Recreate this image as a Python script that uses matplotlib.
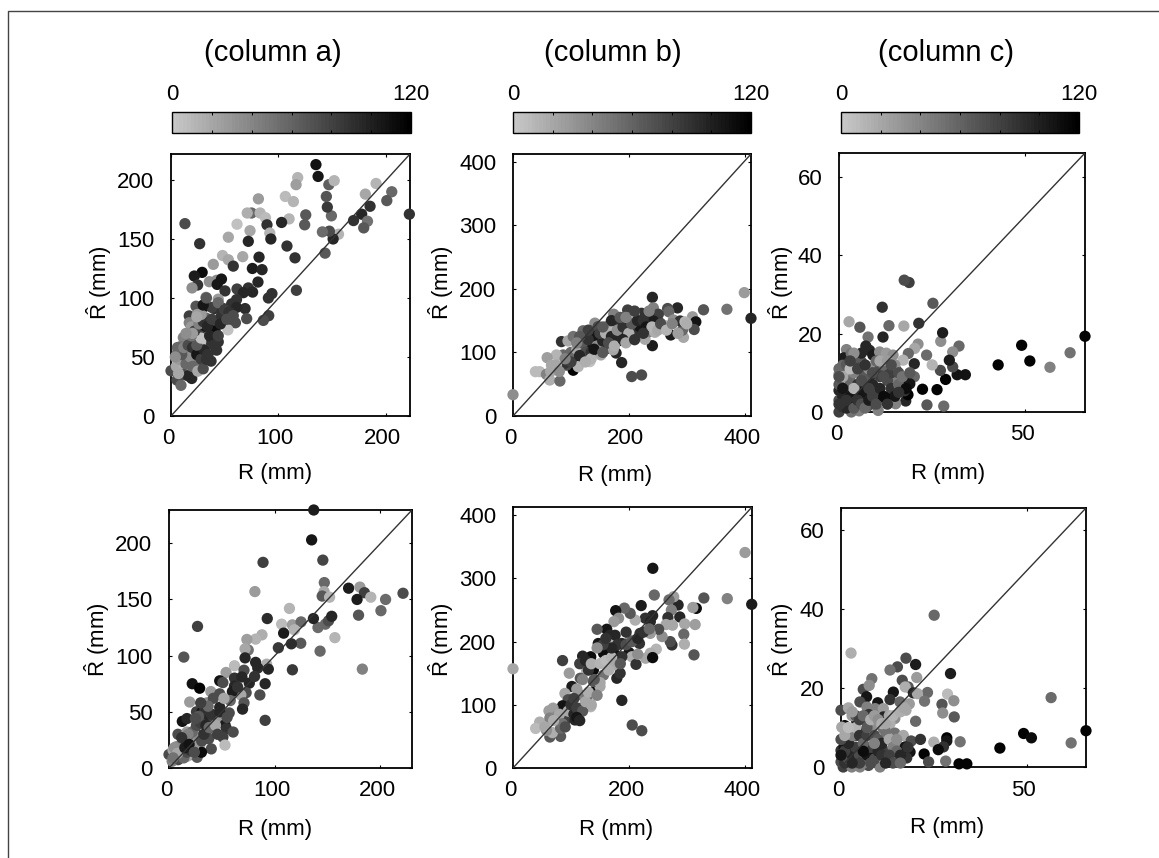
import matplotlib
matplotlib.use('Agg')
import matplotlib.pyplot as plt
import numpy as np
from matplotlib.colors import ListedColormap, Normalize
from matplotlib.cm import ScalarMappable
from matplotlib.lines import Line2D
from matplotlib.transforms import ScaledTranslation

W, H = 1159, 858
plt.rcParams['font.family'] = ['Liberation Sans', 'DejaVu Sans']
plt.rcParams['mathtext.fontset'] = 'custom'
plt.rcParams['mathtext.rm'] = 'Liberation Sans'

# column a, top row
a1_x = [222,205.6,201,191,181,185.4,177.6,183,179.5,170,156,151,147.5,141,143.5,149.4,145.6,144.7,147,152,137,135,118,116.5,106.5,114,125.5,124.5,110,103,81.4,75,71,83,88,89.4,61.5,73.6,53.4,92,93,72,108,115.5,13,26.7,66.8,82,48,53.4,39.4,58,75.8,84.8,29,21.7,24.8,19.6,35.7,42.5,47,43,81,50.3,61.5,72,76,67.4,116.8,94,90.7,32.6,44,61,56.5,69,61,23.3,31.7,40.4,48.8,70.5,91,86,60,17,24.5,32.6,17,42,50,53,29,41,11.5,15.5,27,36.5,44,27.6,18,8.4,6,36.5,42.5,26.4,21,37.3,13,27,3.7,10,0,15.2,22.4,8.4,19.3,5.6,9.3,15,22.4,19,11.5,7]
a1_y = [171,190,182.5,197,188,177.7,171,165,159.4,165.6,154,150,156.6,156,138,169.6,177,186,196,199.4,203,213,202,196,186,181.7,170.4,162,167,164,184,172,172,172,168,162,162.5,157,151.5,155,150,148,144,134,163,146,135,134.6,136,132.4,128.5,127,125,124,121.7,118.6,111,108.5,113.8,115,116,111.5,113.5,106,107.6,108.5,105,104.5,106.5,103.7,100,100.5,99,98.6,95,91,92,93,93,91,91,82.5,85,81,79,84.8,86,83,79,80,78,73,75,72,66.5,65.6,68,63.7,62.8,62.8,60,58.6,53.5,55,55.8,50,46.8,46.5,48.7,44.5,40.3,40,38.3,38.3,37.5,34.6,31.8,30.4,26,53,55.8,75.5,47,46]
a1_c = [89,58,66,12,20,89,97,51,66,89,12,97,74,55,66,58,86,69,62,12,105,108,12,25,9,12,66,66,12,97,28,58,15,12,9,89,5,20,20,12,97,97,89,89,74,89,20,97,12,20,28,89,102,97,112,102,89,35,35,35,105,105,97,89,82,89,97,97,82,89,89,43,28,89,89,92,97,69,112,89,89,74,82,74,74,82,28,58,43,74,97,5,105,112,43,43,82,89,89,5,74,51,58,58,89,58,74,89,74,43,28,43,74,97,20,20,97,74,58,89,112,28,20,28]
a1_x += [5,8,12,14,18,10,6,4,12,16,20,24,28,31,34,24,28,19,22,26,30,34,38,28,20,14,24,36,40,44,47,38,44,50,54,46,30,33,52,58,12,16,20,7,25,30,33]
a1_y += [42,48,40,44,50,52,58,50,58,60,58,52,48,56,52,60,66,68,72,78,80,76,82,86,70,70,84,68,60,68,85,92,96,90,88,78,94,100,82,85,35,34,42,36,38,40,48]
a1_c += [20,28,15,58,35,66,58,35,43,74,89,105,82,97,89,66,5,51,82,43,89,97,82,28,28,35,20,97,89,82,89,82,58,82,89,97,105,66,74,74,74,97,58,20,20,74,89]

# column a, bottom row
a2_x = [137,135,145.6,89,81.3,147,146.8,145,152,170,180.7,185,191,205,221.5,200.6,178,179.4,183,157,143,141,136.7,148,151,154,114,93,27,14,106.6,116.8,125,118.7,108.5,124.7,115.8,103.5,116.8,88,82,73.7,75,72,72,62,54,82,71,92.4,94,84,62,69,48,51,22,29,62,76,91,81,39.6,48,73,68,86,19.6,36,42,71,69.6,48,57,26,31,91,12.6,17,35.4,42.7,48,43.4,53,54.4,36.4,60.7,8.5,17,24.4,37.6,51,40,53,29,18,13.3,26,7,0,5.4,10,15,21,26.6,17,8.5,30.7,3.8]
a2_y = [229.6,203,185,183,157,165,157,153,152,160,161,156,152,150,155.5,140,150,136,88,116,104,125,133,128,131,135,142,133,126,98.7,128,127.4,130,123,120,111,110.5,107,87.4,118.5,114.7,114.4,105,106,98,91,85,94,87,92.4,88,89,80,81,77.6,76,75,71,73,75.5,75,81.5,68,66,67,65,65,58.7,58,62,58,52.4,54,49,50,49.5,42.4,41.5,44,44.4,43,46,36.5,38.5,35,34,32,30,32,33.5,26,27.5,17,20.4,20,20.7,22,26.7,19,12,13.3,13,15,12,9.5,10.4,7.4,14,16]
a2_c = [102,105,78,82,28,58,20,66,12,102,28,82,12,55,74,58,102,69,43,12,58,55,97,58,74,97,12,92,82,69,9,28,58,12,102,66,92,86,86,15,12,25,51,20,97,9,25,97,74,15,97,97,89,97,108,74,108,117,97,97,97,89,28,74,74,20,74,28,35,74,69,97,97,74,82,108,82,108,97,97,82,28,28,102,89,74,74,74,28,74,74,82,74,9,20,105,89,74,35,74,43,28,35,51,66,20,82,112,20]
a2_x += [3,6,9,12,14,17,20,23,11,16,21,25,28,31,33,22,26,30,18,12,5,8,4,15,19,24,35,38,40,44,34,28,37,46,48,55,60,65,58,52,30,25]
a2_y += [6,10,8,15,9,14,16,18,20,24,26,22,28,24,30,32,38,40,30,27,18,13,9,18,21,14,38,36,48,38,52,46,55,30,50,45,68,72,60,62,58,44]
a2_c += [43,35,74,28,58,74,89,20,43,66,82,28,35,74,89,58,74,82,43,89,35,20,51,102,108,74,97,58,89,20,89,66,58,82,97,74,102,89,58,20,82,74]

# column b, top row
b1_x = [411,399.4,369.4,329,0,240.7,242.4,284,267,269,310,315.7,312.8,294.4,292.6,277,288.6,297,272.4,240.7,222,205,187.6,178,198,174,222,209.5,192,251,236.7,254,83.7,95,104,121,141.4,141.4,147,164.5,173,164.5,144.3,181.8,200,202,213.6,219,228,235.5,245,257,262.6,242.4,181.8,187.6,127,121,112.6,106.8,104,92.4,86.6,75,59,66.4,46,38.7,57.7,63.5,81,132.7,112.6,127,138.5,153,164.5,173,151.8,89.5,101]
b1_y = [153.6,194,167.8,167,33.5,186.6,170,170,169,164,156,148,136,123.7,135,151,149.4,148,127.4,110.6,64.5,62,84,99,166.7,160,161.5,161.5,155,160,152,146,117,118,125,134,146,129,140.5,142,133.7,120.6,125,118,123,135,130,140.5,120.6,132.6,131.6,140.5,142,149.4,146,134,111.7,106.4,93.3,88,72,80,96,96,91.7,80,69.7,69.7,65.5,56.6,55,85.5,77.6,93.3,109,104,106.4,104,96,83,90.7]
b1_c = [97,28,51,69,35,97,43,97,74,58,28,108,74,20,58,35,89,12,102,102,74,74,97,97,82,43,89,12,66,82,89,89,89,20,51,58,35,112,74,35,12,9,105,97,89,35,89,105,20,43,15,20,15,102,89,97,97,89,74,105,117,74,58,12,25,20,9,9,43,15,58,5,12,97,105,51,89,20,20,89,82]
b1_x += [100,110,120,130,125,135,145,155,150,160,170,180,190,200,205,215,225,230,240,250,255,265,275,285,300,100,115,135,90,75,65,80,170,185,195,210,235,155,130,115,110,125,140,165,155,175,190,195,210,225]
b1_y += [100,105,115,120,100,100,110,118,130,130,125,135,140,130,145,150,150,140,140,135,145,135,145,130,145,85,95,90,90,80,70,70,150,155,155,165,165,140,135,125,115,85,105,115,100,110,120,115,120,130]
b1_c += [58,20,66,89,74,89,35,97,82,15,97,35,89,15,66,97,89,105,12,20,74,12,43,25,15,82,97,12,43,20,20,35,97,66,43,82,43,66,82,66,43,15,105,74,66,15,97,20,89,89]

# column b, bottom row
b2_x = [411.5,400,369.4,329,316,310,284.6,287.5,277,269,273,267,263.8,275,296,314,294.4,295.5,312,274,271,257,251,243.6,241,221,240.7,228,236.7,236.7,219,218,202,210.7,202,192,177,182,174,161.6,145,176,167,165,147,187.6,200,205,247,236.7,228.6,240.7,212,187.6,173,156,134,120,85.4,118,127,138.5,97,156,179,184.7,173,153,116,101.6,143,150,138.5,187.6,205.5,222,0,124,134,115.4,127,89.5,95,85.4,69,62,46,39,63.5,75,89.5,106.8,109.7,112.6,98,63.5,82,68,82,57.7]
b2_y = [259,341,268,269,252.6,254,258,239,271,266,250,238,227,226,228,227,211.6,196,179,194.7,200,208,219.5,273.7,316,257,241,237,231.6,213,213,197,202.6,234,244.7,253,249,237,231.6,219.5,219.5,210,210,196,197,197,182.6,176,188,181.6,173.7,174.7,164,176,184,181.6,176,177,170,166,154,155,150,147,142,150,163,166,142,129,123.7,129,137,107,68,59,157,100,97,116,110.5,118,108,98.4,94.7,90.5,72.6,62.6,79,81.6,74.7,76,81.6,89.5,92,49,50,56,63,59.5]
b2_c = [102,28,43,69,112,28,97,97,25,55,43,89,20,20,20,25,58,15,69,89,74,35,74,58,105,102,97,89,97,28,89,89,35,15,66,58,108,35,28,105,66,97,97,12,105,97,105,15,12,15,20,112,89,89,105,112,112,97,82,89,15,112,28,51,97,89,20,12,66,102,112,20,66,97,74,74,20,112,12,43,51,20,74,108,25,25,15,9,43,35,82,97,102,89,89,66,66,15,58,35]
b2_x += [95,105,100,110,120,125,130,110,105,135,145,150,140,130,120,115,125,135,150,160,170,175,165,185,180,195,205,215,225,235,215,195,170,155,160,145,75,80,85,90,70,110,115,55]
b2_y += [90,85,100,95,90,105,120,125,110,100,115,135,140,155,140,165,170,165,165,170,175,165,155,165,195,195,200,205,215,220,180,215,190,195,205,190,80,85,70,65,75,80,75,65]
b2_c += [20,97,89,82,66,20,15,28,82,20,43,20,66,89,43,82,97,15,12,9,12,20,15,66,89,74,66,97,89,58,35,89,97,82,89,35,43,20,51,74,15,105,97,20]

# column c, top row
c1_x = [66,62,56.6,49,51.2,42.7,33.9,31.7,32.2,30.5,30.5,29.6,28.6,27.2,27.3,27.8,25,26.3,28.1,23.6,22.4,23.5,21.2,20.3,20.2,20.2,21.4,25.2,18.8,17.5,17.4,13.4,11.6,11.8,7.8,5.6,2.7,7.2,8.2,9.1,2,1.3,3.3,10.9,12.7,14.5,18.6,17.2,9.3,2.4,0,6,1,4.2,6.5,8.2,10.9,13.6,15.4,14.5,17.6,19,2.4,3.8,7.8,9.6,0,5.6,7.3,11.4,13.2,14.7,17.9,18.5,17.6,15.2,10.5,5.4,3.3,0,1.1,0,2.9,4.2,9.1,7.5]
c1_y = [19.3,15.1,11.4,17,13,12,9.5,9.5,16.8,15.3,11.5,13.2,8.3,10.6,18,20.2,12,5.7,1.5,1.8,5.8,14.5,17.3,16.2,12.3,9,22.6,27.7,33,33.6,21.9,22,26.7,19.1,19.1,21.6,23,16.8,15.7,14.5,15.9,13.8,14.9,15.3,15,14.5,14.9,13.2,11.9,10.6,9.6,12.8,11.9,13.2,9.8,8.9,11,10.2,10.6,7.9,8.3,7.2,7.7,7,6.8,6.4,5.5,5.5,4.3,3.8,3.6,3.7,2.8,4.4,5.4,2.1,0.4,0.3,0,0,1.3,3,2.1,3.4,2.1,1.3]
c1_c = [117,51,43,117,117,117,108,108,58,35,74,102,117,74,35,102,12,117,55,66,117,55,35,20,97,58,89,66,82,74,20,58,89,97,51,69,20,97,97,102,43,102,51,35,28,35,58,12,9,20,35,66,58,74,74,97,74,82,74,43,112,105,12,35,89,43,97,105,97,112,112,117,97,117,89,43,43,43,51,82,89,74,97,105,74,74]
c1_x += [1,2,3,4,5,6,7,8,9,10,11,12,13,14,15,16,1,2,3,4,5,6,7,8,9,10,11,12,13,14,15,16,17,18,19,0,0,1,2,3,4,5,6,7,8,9,10,11,12,13,14,16,5,6,4,3,1,2,0,0]
c1_y += [4,6,8,10,7,5,9,11,7,5,9,12,8,6,4,7,2,1,4,1,3,2,1,3,4,2,6,4,2,10,12,10,9,6,10,7,11,9,12,11,6,11,8,12,6,10,13,13,9,13,12,5,14,15,15,13,6,3,2,9]
c1_c += [97,74,58,43,89,105,66,35,97,74,82,58,74,89,105,58,82,97,105,66,89,74,58,102,82,74,97,112,89,82,35,74,51,112,66,66,58,20,66,9,12,82,74,89,82,74,58,20,74,28,74,89,66,97,35,82,105,89,89,74]

# column c, bottom row
c2_x = [66,62,56.6,49.2,51.3,42.8,33.9,31.8,25.1,2.7,17.5,20.1,15.2,13.2,29.5,20.4,8.3,16.5,6,7.6,18.1,17.3,14.1,28.7,23.3,19.5,20.6,6.9,13.2,22.5,30.4,27.2,5.1,9.9,15.9,18.4,17.5,2,0,27.4,30.5,20.1,7,9.2,11.4,7.5,11.4,14.5,13.2,4.2,1,0.2,7,9.2,11.4,14.5,16.8,6.6,2.9,4.2,9.2,12.7,18.9,21.4,28.5,25,32.1,28.5,27.6,26.2,22.4,18.6,17.7,14.6,12.3,15.2,23.6,28.2,10.5,7.4,0,0.8,2.9,5.6,8.5,1.1,4.2,0.6,2.9,5.1,12.3,15,17.3,11,0]
c2_y = [9.2,6.1,17.6,8.5,7.4,4.8,0.8,0.8,38.5,28.9,27.6,26,25.4,24.6,23.7,22.7,22.4,22,19.7,20.7,20.3,20.3,19,18.5,18.9,18.8,18.6,17.8,17.1,16.7,16.8,15.9,16.5,16.3,16.5,16,14.4,14.8,14.4,13.7,12.7,11.6,15.2,14.8,14.8,13.3,12.7,12.3,11,11.7,10.5,10.1,11.2,10.7,9.7,8.6,8,8.9,7.6,8,6.8,7.4,6.6,7,7.4,6.3,6.4,6.6,5.1,4.4,3.3,3.8,2.3,2.5,1.5,1.3,1.3,1.5,0,0.4,4.2,5.1,5.1,4.2,3,2.5,1.7,0,0,0,3.8,5.9,5.1,5.9,1.3]
c2_c = [117,51,55,117,112,117,117,117,58,15,74,102,74,51,102,28,51,74,74,35,66,15,105,9,58,97,20,105,89,51,35,69,74,105,58,28,20,28,74,35,66,58,43,43,28,89,97,35,15,108,112,20,66,20,51,51,20,89,12,74,51,28,74,89,117,15,51,105,89,112,117,108,89,112,117,51,74,51,43,74,89,105,97,105,97,89,74,82,43,43,82,35,105,97,74]
c2_x += [1,2,3,4,5,6,7,8,9,10,11,1,2,3,4,5,6,7,8,9,10,11,12,13,14,15,16,0,0,1,2,3,4,5,6,7,8,9,10,11,12,13,14,16,17,15,13,14,16,18,5,3,2,3,6,8,12,9]
c2_y += [1,2,3,5,3,1,3,5,2,4,3,4,6,8,10,8,6,8,10,8,7,6,9,7,5,4,3,7,3,8,10,13,13,12,13,10,12,13,12,11,11,13,13,14,15,7,3,1,1,5,1,1,15,14,4,1,1,6]
c2_c += [89,74,97,82,74,43,105,82,74,97,89,82,97,43,12,89,58,82,35,74,66,97,51,20,43,58,97,74,105,20,9,28,66,82,58,66,15,28,35,15,20,20,12,15,20,35,82,74,58,89,82,97,20,28,112,74,97,43]

cb_ticks = [20, 40, 60, 80, 100]

# pixel boxes of the axes: left, right, top, bottom
panels = [
    (a1_x, a1_y, a1_c, (171, 410, 154, 416), 222.6, 222, [0, 100, 200], [0, 50, 100, 150, 200], (275, 474), (99, 283)),
    (b1_x, b1_y, b1_c, (513, 751, 154, 416), 411, 412, [0, 200, 400], [0, 100, 200, 300, 400], (615, 476), (441, 283)),
    (c1_x, c1_y, c1_c, (839, 1085, 153, 412), 66, 66, [0, 50], [0, 20, 40, 60], (948, 474), (781, 283)),
    (a2_x, a2_y, a2_c, (169, 412, 510, 768), 230, 229.6, [0, 100, 200], [0, 50, 100, 150, 200], (275, 829), (97, 640)),
    (b2_x, b2_y, b2_c, (513, 752, 507, 768), 412, 413, [0, 200, 400], [0, 100, 200, 300, 400], (616, 830), (441, 640)),
    (c2_x, c2_y, c2_c, (841, 1086, 508, 767), 66, 65.7, [0, 50], [0, 20, 40, 60], (947, 827), (781, 640)),
]
colorbars = [(172, 411, 112, 133), (513, 751, 112, 133), (841, 1079, 112, 133)]
titles = [('(column a)', 273), ('(column b)', 613), ('(column c)', 946)]

cmap = ListedColormap(plt.cm.gray(np.linspace(0.78, 0, 64)))
norm = Normalize(0, 120)
FS = 16


def box(left, right, top, bottom):
    return [left / W, 1 - bottom / H, (right - left) / W, (bottom - top) / H]


fig = plt.figure(figsize=(W / 100, H / 100), dpi=100)
# page rule, only top and left
fig.add_artist(Line2D([8 / W, 8 / W, 1], [0, 1 - 10.5 / H, 1 - 10.5 / H], transform=fig.transFigure,
                      color='#444444', lw=1.0))
shift = ScaledTranslation(-3 / 100, 0, fig.dpi_scale_trans)

for x, y, c, pos, xmax, ymax, xt, yt, xl, yl in panels:
    ax = fig.add_axes(box(*pos))
    ax.scatter(x, y, c=c, cmap=cmap, norm=norm, s=66, linewidths=0, clip_on=False, zorder=3)
    ax.plot([0, xmax], [0, ymax], color='#333333', lw=1.0, zorder=4)
    ax.set_xlim(0, xmax)
    ax.set_ylim(0, ymax)
    ax.set_xticks(xt)
    ax.set_yticks(yt)
    ax.tick_params(direction='in', top=True, right=True, length=2.5, width=0.8, labelsize=FS)
    ax.tick_params(axis='x', pad=9)
    ax.tick_params(axis='y', pad=12)
    for lab in ax.get_xticklabels():
        lab.set_transform(lab.get_transform() + shift)
    for s in ax.spines.values():
        s.set_linewidth(1.3)
        s.set_zorder(2)
    ax.set_xlabel('R (mm)', fontsize=FS)
    ax.set_ylabel(r'$\hat{\mathrm{R}}$ (mm)', fontsize=FS)
    ax.xaxis.set_label_coords(xl[0] / W, 1 - xl[1] / H, transform=fig.transFigure)
    ax.yaxis.set_label_coords(yl[0] / W, 1 - yl[1] / H, transform=fig.transFigure)
    ax.xaxis.label.set_verticalalignment('center')
    ax.yaxis.label.set_verticalalignment('center')

for pos in colorbars:
    cax = fig.add_axes(box(*pos))
    cb = fig.colorbar(ScalarMappable(norm=norm, cmap=cmap), cax=cax, orientation='horizontal')
    cb.set_ticks(cb_ticks)
    cax.tick_params(axis='x', direction='in', top=True, bottom=True, length=2.5, width=0.7,
                    labelbottom=False)
    cb.outline.set_linewidth(1.0)
    cax.text(0, 1.85, '0', transform=cax.transAxes, ha='center', va='center', fontsize=FS)
    cax.text(1, 1.85, '120', transform=cax.transAxes, ha='center', va='center', fontsize=FS)

for label, cx in titles:
    fig.text(cx / W, 1 - 53 / H, label, ha='center', va='center', fontsize=21)

fig.savefig('out.png', dpi=100)
